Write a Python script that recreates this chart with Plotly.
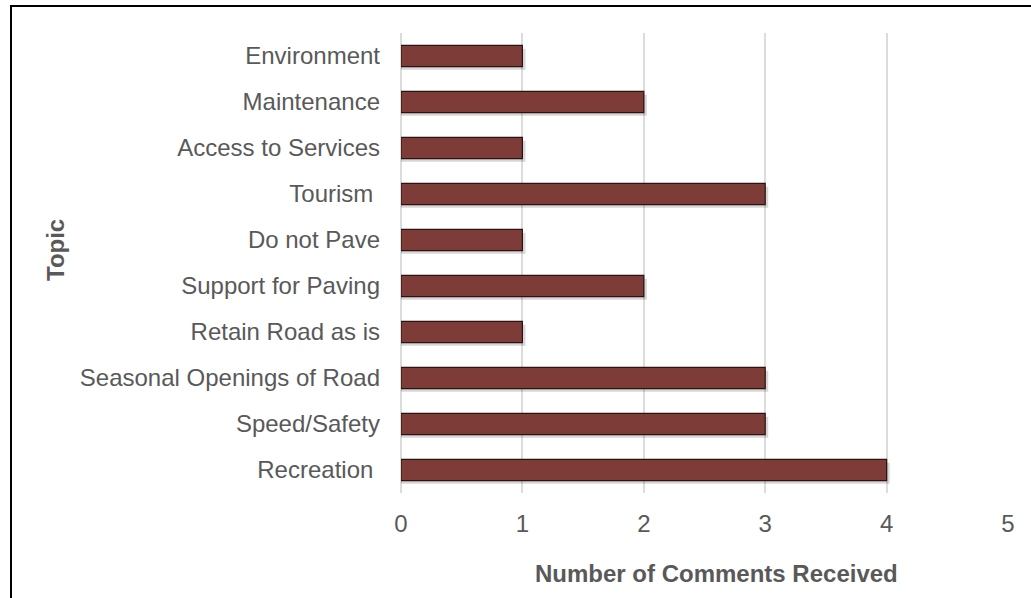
import plotly.graph_objects as go

topics = ["Recreation\u00a0", "Speed/Safety", "Seasonal Openings of Road", "Retain Road as is",
          "Support for Paving", "Do not Pave", "Tourism\u00a0", "Access to Services",
          "Maintenance", "Environment"]
comments = [4, 3, 3, 1, 2, 1, 3, 1, 2, 1]
x_ticks = [0, 1, 2, 3, 4, 5]

W, H = 1031, 598
L, R, T, B = 401, 23, 33, 105
pw, ph = W - L - R, H - T - B

def px(xp):
    return (xp - L) / pw

def py(yp):
    return (H - B - yp) / ph

gray = "#595959"
font = "Liberation Sans, Arial, sans-serif"
fs = 24

fig = go.Figure()
# soft shadow
fig.add_trace(go.Bar(
    y=topics, x=[v + 0.025 for v in comments], orientation="h",
    width=0.46, offset=-0.23 - 0.07,
    marker=dict(color="rgba(0,0,0,0.16)", line=dict(width=0)),
    hoverinfo="skip", showlegend=False))
fig.add_trace(go.Bar(
    y=topics, x=comments, orientation="h",
    width=0.46, offset=-0.23,
    marker=dict(color="#7E3C39", line=dict(color="#2b1312", width=1.2)),
    showlegend=False))

fig.update_layout(
    width=W, height=H,
    margin=dict(l=L, r=R, t=T, b=B),
    paper_bgcolor="white", plot_bgcolor="white",
    barmode="overlay",
    font=dict(family=font, size=fs, color=gray),
    xaxis=dict(range=[0, 5], tickvals=x_ticks, showgrid=True, gridcolor="#dcdcdc",
               gridwidth=2, zeroline=True, zerolinecolor="#dcdcdc", zerolinewidth=2,
               showline=False, ticks="", layer="below traces",
               ticklabelstandoff=14, tickfont=dict(size=fs, color=gray)),
    yaxis=dict(categoryorder="array", categoryarray=topics, showgrid=False,
               zeroline=False, showline=False, ticks="", ticklabelstandoff=20,
               tickfont=dict(size=fs, color=gray), range=[-0.5, 9.5]),
    annotations=[
        dict(text="<b>Number of Comments Received</b>", xref="paper", yref="paper",
             x=px(716), y=py(573), showarrow=False, font=dict(size=fs, color=gray),
             xanchor="center", yanchor="middle"),
        dict(text="<b>Topic</b>", xref="paper", yref="paper", textangle=-90,
             x=px(55), y=py(250), showarrow=False, font=dict(size=fs, color=gray),
             xanchor="center", yanchor="middle"),
    ],
    shapes=[
        dict(type="line", xref="paper", yref="paper", x0=px(11), x1=px(11),
             y0=py(5), y1=py(600), line=dict(color="black", width=2)),
        dict(type="line", xref="paper", yref="paper", x0=px(10), x1=px(1035),
             y0=py(6), y1=py(6), line=dict(color="black", width=2)),
    ],
)

fig.write_html("out.html")
